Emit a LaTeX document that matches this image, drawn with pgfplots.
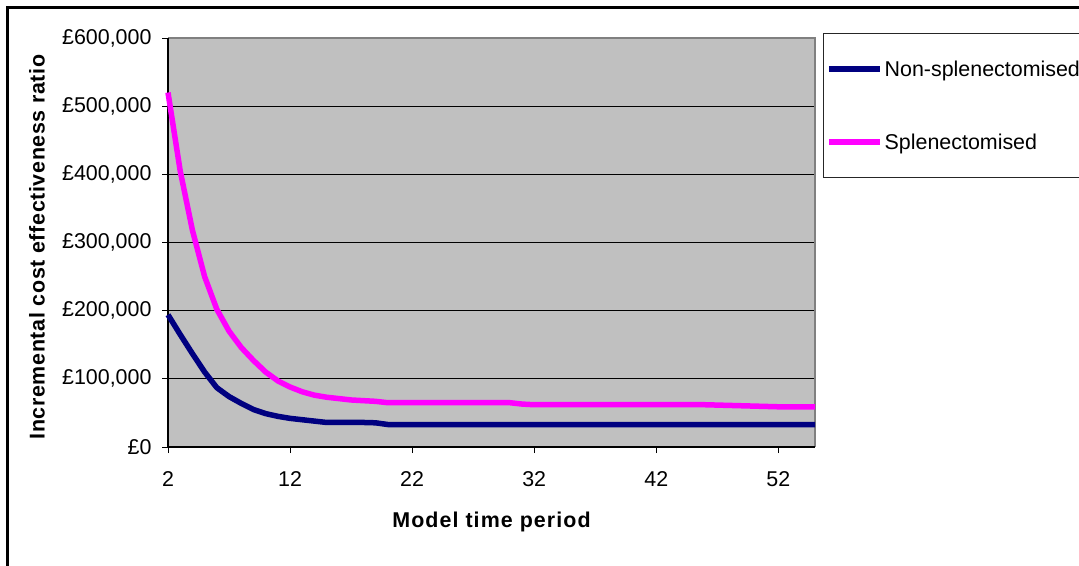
\documentclass[border=0pt]{standalone}
\usepackage{fontspec}
\setmainfont{Liberation Sans}
\usepackage{pgfplots}
\pgfplotsset{compat=1.18}
\definecolor{navyline}{RGB}{0,0,128}
\definecolor{magline}{RGB}{255,0,255}
\definecolor{plotgrey}{RGB}{192,192,192}
\begin{document}
\begin{tikzpicture}[x=1bp,y=1bp]
\useasboundingbox (0,0) rectangle (1079,-566);
\clip (0,0) rectangle (1079,-566);
\fill[white] (0,0) rectangle (1079,-566);
\draw[line width=2.3bp] (7.5,-570) -- (7.5,-7.5) -- (1085,-7.5);
\begin{axis}[
  at={(168bp,-447bp)}, anchor=origin,
  scale only axis, width=647bp, height=409bp,
  xmin=2, xmax=55, ymin=0, ymax=600000,
  axis background/.style={fill=plotgrey},
  axis line style={draw=none},
  xtick={2,12,22,32,42,52},
  ytick={0,100000,200000,300000,400000,500000,600000},
  xtick pos=bottom, ytick pos=left,
  scaled y ticks=false,
  tick align=outside, major tick length=6bp,
  tick style={black, line width=0.9bp},
  ymajorgrids, grid style={black, line width=0.9bp},
  /pgf/number format/assume math mode=true,
  yticklabel={£\pgfmathprintnumber[fixed,precision=0,1000 sep={,}]{\tick}},
  ticklabel style={font=\fontsize{21.5}{24}\selectfont},
  yticklabel style={xshift=-7bp},
  xticklabel style={yshift=-15bp},
  xlabel={Model time period},
  ylabel={Incremental cost effectiveness ratio},
  xlabel style={at={(axis description cs:0.5,-0.1826)}, anchor=center,
    font=\fontsize{21.5}{24}\selectfont\bfseries\addfontfeatures{LetterSpace=5}},
  ylabel style={at={(axis description cs:-0.2025,0.489)}, anchor=center,
    font=\fontsize{21.5}{24}\selectfont\bfseries\addfontfeatures{LetterSpace=3}},
  legend style={at={(1.0119,1.0115)}, anchor=north west, draw=black!85, line width=0.9bp,
    fill=white, font=\fontsize{21.5}{24}\selectfont, inner xsep=3bp, inner ysep=25bp,
    row sep=52bp, text depth=0pt},
  legend cell align=left,
  legend image code/.code={\draw[#1, line width=5.5bp] (0bp,0bp) -- (51bp,0bp);},
  clip=false,
]
% plot frame
\draw[black!50, line width=1.5bp] (rel axis cs:0,1) -- (rel axis cs:1,1) -- (rel axis cs:1,0);
\draw[black, line width=1.2bp] (rel axis cs:0,1) -- (rel axis cs:0,0) -- (rel axis cs:1,0);
\addplot[navyline, line width=5.5bp, line join=round] coordinates {
(2,194000) (3,165000) (4,137000) (5,110000) (6,87000) (7,74000) (8,64000)
(9,55000) (10,49000) (11,45000) (12,42000) (13,40000) (14,38000) (15,36000)
(16,36000) (17,36000) (18,36000) (19,35500) (20,33000) (21,33000) (22,33000)
(23,33000) (24,33000) (25,33000) (26,33000) (27,33000) (28,33000) (29,33000)
(30,33000) (31,33000) (32,33000) (33,33000) (34,33000) (35,33000) (36,33000)
(37,33000) (38,33000) (39,33000) (40,33000) (41,33000) (42,33000) (43,33000)
(44,33000) (45,33000) (46,33000) (47,33000) (48,33000) (49,33000) (50,33000)
(51,33000) (52,33000) (53,33000) (54,33000) (55,33000)
};
\addlegendentry{Non-splenectomised}
\addplot[magline, line width=5.5bp, line join=round] coordinates {
(2,520000) (3,405000) (4,318000) (5,250000) (6,202000) (7,170000) (8,146000)
(9,127000) (10,110000) (11,97000) (12,88000) (13,81000) (14,76000) (15,73000)
(16,71000) (17,69000) (18,68000) (19,67000) (20,65000) (21,65000) (22,65000)
(23,65000) (24,65000) (25,65000) (26,65000) (27,65000) (28,65000) (29,65000)
(30,65000) (31,63000) (32,62000) (33,62000) (34,62000) (35,62000) (36,62000)
(37,62000) (38,62000) (39,62000) (40,62000) (41,62000) (42,62000) (43,62000)
(44,62000) (45,62000) (46,62000) (47,61500) (48,61000) (49,60500) (50,60000)
(51,59500) (52,59000) (53,59000) (54,59000) (55,59000)
};
\addlegendentry{Splenectomised}
\end{axis}
\end{tikzpicture}
\end{document}
